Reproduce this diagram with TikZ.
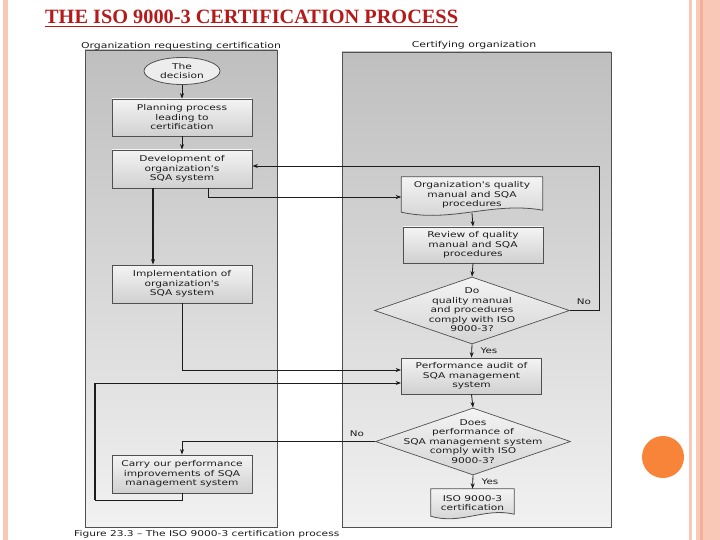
\documentclass[tikz,border=0pt]{standalone}
\usepackage{fontspec}
\setmainfont{Liberation Serif}
\newfontfamily\dfont[FakeStretch=1.33]{DejaVu Sans}
\usetikzlibrary{shapes.geometric,arrows.meta,calc}
\definecolor{titlered}{HTML}{B41A1A}
\definecolor{pinkband}{HTML}{F9C8B6}
\definecolor{pinkline}{HTML}{F2AE96}
\definecolor{orangedot}{HTML}{F8843A}
\definecolor{lanetop}{HTML}{BFBFBF}
\definecolor{lanebot}{HTML}{F1F1F1}
\definecolor{edge}{HTML}{505050}
\definecolor{ink}{HTML}{1C1C1C}
\definecolor{boxtop}{HTML}{F4F4F4}
\definecolor{boxbot}{HTML}{D0D0D0}
\pgfdeclarelayer{bg}\pgfdeclarelayer{shp}\pgfsetlayers{bg,shp,main}
\begin{document}
\begin{tikzpicture}[x=1pt,y=-1pt,
  txt/.style={font=\dfont\fontsize{8}{9.5}\selectfont, text=ink, align=center, inner sep=0pt},
  hdr/.style={font=\dfont\fontsize{8.2}{10}\selectfont, text=ink, inner sep=0pt},
  lbl/.style={font=\dfont\fontsize{7.8}{9}\selectfont, text=ink, inner sep=0pt},
  lane/.style={draw=edge, line width=0.9pt, top color=lanetop, bottom color=lanebot},
  proc/.style={txt, draw=edge, line width=0.8pt, top color=boxtop, bottom color=boxbot, minimum width=140pt, minimum height=38pt},
  ell/.style={txt, ellipse, draw=edge, line width=0.8pt, fill=boxtop!80!boxbot, minimum width=76pt, minimum height=27pt},
  dia/.style={diamond, draw=edge, line width=0.7pt, top color=boxtop, bottom color=boxbot!90, minimum width=195pt, minimum height=67pt, inner sep=0pt},
  docbox/.style={txt, minimum width=141pt, minimum height=36pt},
  docshape/.style={draw=edge, line width=0.8pt, top color=boxtop, bottom color=boxbot},
  arr/.style={draw=ink, line width=0.8pt, -{Stealth[length=5.5pt,width=4pt]}},
  heavy/.style={draw=ink, line width=1.6pt}
]
\useasboundingbox (0,0) rectangle (720,540);
\begin{pgfonlayer}{bg}
\fill[white] (0,0) rectangle (720,540);
\draw[lane] (85,50) rectangle (277,527);
\draw[lane] (342,52) rectangle (611,527);
\end{pgfonlayer}
% slide decorations
\fill[pinkband] (2.7,0) rectangle (8.3,540);
\fill[pinkband] (689,0) rectangle (692,540);
\fill[pinkband] (696,0) rectangle (720,540);
\fill[pinkline] (700,0) rectangle (702.5,540);
\fill[orangedot] (663,457) circle (21);
% title
\node[anchor=base west, inner sep=0pt, font=\fontsize{20.3}{23}\selectfont\bfseries, text=titlered] (title) at (45,24) {THE ISO 9000-3 CERTIFICATION PROCESS};
\draw[titlered, line width=1.2pt] ([yshift=-2.6pt]title.base west) -- ([yshift=-2.6pt]title.base east);
% lane headers
\node[hdr] (h1) at (181,46) {Organization requesting certification};
\node[hdr] (h2) at (474,45) {Certifying organization};
% left lane nodes
\node[ell] (dec) at (182,71) {The\\decision};
\node[proc, minimum height=37pt] (plan) at (182,117.5) {Planning process\\leading to\\certification};
\node[proc] (dev) at (182,169) {Development of\\organization's\\SQA system};
\node[proc] (impl) at (182,284) {Implementation of\\organization's\\SQA system};
\node[proc] (carry) at (182,474) {Carry our performance\\improvements of SQA\\management system};
% right lane nodes
\node[docbox] (man) at (472,195) {Organization's quality\\manual and SQA\\procedures};
\node[proc, minimum height=36pt] (rev) at (473,245) {Review of quality\\manual and SQA\\procedures};
\node[dia] (d1) at (472,310.5) {};
\node[txt] (d1t) at (472,310) {Do\\quality manual\\and procedures\\comply with ISO\\9000-3?};
\node[proc, minimum height=36pt] (perf) at (471.5,376) {Performance audit of\\SQA management\\system};
\node[dia] (d2) at (473,441.5) {};
\node[txt] (d2t) at (473,441.5) {Does\\performance of\\SQA management system\\comply with ISO\\9000-3?};
\node[docbox, minimum width=83pt, minimum height=28pt] (iso) at (472.5,503) {ISO 9000-3\\certification};
% document shapes
\begin{pgfonlayer}{shp}
\draw[docshape] (man.north west) -- (man.north east) -- ([yshift=3pt]man.south east)
  .. controls ([xshift=-50pt,yshift=12pt]man.south east) and ([xshift=50pt,yshift=-10pt]man.south west) .. ([yshift=1pt]man.south west) -- cycle;
\draw[docshape] (iso.north west) -- (iso.north east) -- ([yshift=3pt]iso.south east)
  .. controls ([xshift=-30pt,yshift=10pt]iso.south east) and ([xshift=30pt,yshift=-8pt]iso.south west) .. ([yshift=1pt]iso.south west) -- cycle;
\end{pgfonlayer}
% connectors
\draw[arr] (dec) -- (plan);
\draw[arr] (plan) -- (dev);
\draw[arr, line width=1.5pt] ([xshift=-29pt]dev.south) -- ([xshift=-29pt]impl.north);
\draw[arr] ([xshift=26pt]dev.south) |- ([yshift=-2pt]man.west);
\draw[arr] (man.south) -- (rev.north);
\draw[arr] (rev.south) -- (d1.north);
\draw[arr] (d1.east) -- ++(30,0) |- ([yshift=3pt]dev.east);
\node[lbl] (no1) at (584,302) {No};
\draw[arr] (d1.south) -- (perf.north);
\node[lbl] (yes1) at (489,351) {Yes};
\draw[arr] (impl.south) |- ([yshift=6pt]perf.west);
\coordinate (lb) at (95,500);
\coordinate (lt) at (95,383);
\draw[arr] (carry.south) |- (lb) -- (lt) -- ([yshift=-7pt]perf.west);
\draw[heavy] (lb) -- (lt);
\draw[arr] (d2.west) -| (carry.north);
\node[lbl] (no2) at (357,434) {No};
\draw[arr] (perf.south) -- (d2.north);
\draw[arr] (d2.south) -- (iso.north);
\node[lbl] (yes2) at (490,482) {Yes};
% caption
\node[txt, anchor=north west] (cap) at (74,530) {Figure 23.3 – The ISO 9000-3 certification process};
\end{tikzpicture}
\end{document}
